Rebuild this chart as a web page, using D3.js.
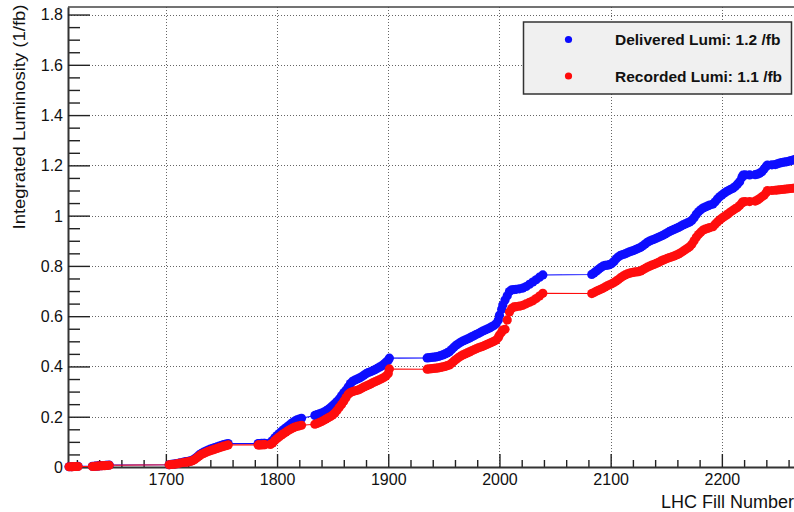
<!DOCTYPE html>
<html>
<head>
<meta charset="utf-8">
<script src="https://cdn.jsdelivr.net/npm/d3@7"></script>
<style>
  html, body { margin: 0; padding: 0; background: #fff; }
  svg { display: block; font-family: "Liberation Sans", Arial, Helvetica, sans-serif; }
</style>
</head>
<body>
<svg id="chart" width="794" height="512"></svg>
<script>
// Cumulative integrated luminosity per LHC fill (1/fb)
const fills = [
  1613,1615,1616,1618,1619,1621,
  1634,1636,1637,1639,1640,1642,1643,1645,1646,1647,1649,
  1703,1705,1707,1709,1711,1713,1716,1718,1720,1722,1724,1726,1728,1730,1732,1734,1736,1738,1740,1742,1744,1746,1748,1750,1752,1754,1756,
  1783,1784,1786,1788,1789,
  1794,1796,1798,1800,1802,1804,1806,1808,1810,1812,1814,1816,1818,1820,1822,
  1834,1836,1838,1840,1842,1844,1846,1848,1850,1852,1854,1856,1858,1860,1862,1864,1866,1868,1870,1872,1874,1876,1878,1880,1882,1884,1886,1888,1890,1892,1894,1896,1898,1900,1901,
  1935,1937,1939,1941,1943,1945,1947,1949,1951,1953,1955,1957,1959,1961,1963,1965,1967,1969,1971,1973,1975,1977,1979,1981,1983,1985,1987,1989,1991,1993,1995,1997,1999,
  2000,2002,2003,2005,2007,2009,2011,2013,2015,2018,2021,2024,2027,2030,2033,2036,2039,
  2083,2085,2087,2089,2091,2093,2095,2097,2099,2101,2103,2105,2107,2109,2111,2113,2115,2117,2119,2121,2123,2125,2127,2129,2131,2133,2135,2137,
  2139,2141,2143,2145,2147,2149,2151,2153,2155,2157,2159,2161,2163,2165,2167,2169,2171,2173,2175,2177,2179,2181,2183,2185,2187,2189,
  2192,2194,2196,2198,2200,2202,2204,2206,2208,2210,2212,2214,2216,2218,
  2219,2221,2225,2230,2232,2234,2236,2238,2240,2241,2245,2248,
  2250,2252,2254,2256,2258,2260,2262,2264,2266
];

const delivered = [
  0.001,0.001,0.002,0.002,0.002,0.003,
  0.003,0.003,0.004,0.004,0.005,0.005,0.006,0.006,0.007,0.007,0.008,
  0.009,0.011,0.012,0.013,0.015,0.017,0.019,0.021,0.022,0.024,0.027,0.033,0.040,0.048,0.054,0.059,0.063,0.067,0.071,0.074,0.077,0.080,0.083,0.086,0.089,0.091,0.093,
  0.093,0.093,0.094,0.094,0.094,
  0.097,0.105,0.116,0.125,0.133,0.141,0.149,0.156,0.163,0.170,0.177,0.183,0.188,0.191,0.194,
  0.205,0.208,0.211,0.214,0.218,0.223,0.229,0.236,0.244,0.252,0.261,0.271,0.283,0.295,0.305,0.318,0.332,0.341,0.346,0.350,0.354,0.359,0.365,0.371,0.376,0.379,0.383,0.387,0.392,0.397,0.402,0.409,0.417,0.425,0.433,
  0.434,0.435,0.436,0.437,0.438,0.440,0.443,0.446,0.450,0.454,0.459,0.467,0.476,0.484,0.490,0.496,0.501,0.505,0.509,0.513,0.518,0.522,0.527,0.531,0.536,0.541,0.545,0.549,0.553,0.558,0.563,0.570,0.585,
  0.604,0.628,0.644,0.664,0.681,0.698,0.705,0.706,0.707,0.709,0.712,0.718,0.727,0.736,0.745,0.755,0.764,
  0.766,0.772,0.779,0.786,0.793,0.799,0.802,0.803,0.805,0.810,0.818,0.828,0.836,0.842,0.845,0.848,0.852,0.856,0.859,0.862,0.866,0.870,0.874,0.880,0.887,0.894,0.899,0.903,
  0.906,0.910,0.914,0.918,0.922,0.927,0.932,0.937,0.941,0.945,0.949,0.953,0.958,0.963,0.967,0.971,0.975,0.981,0.992,1.005,1.015,1.023,1.030,1.034,1.038,1.042,
  1.046,1.055,1.066,1.075,1.082,1.089,1.095,1.100,1.105,1.109,1.116,1.125,1.135,1.152,
  1.161,1.162,1.162,1.163,1.165,1.169,1.175,1.186,1.196,1.201,1.202,1.203,
  1.206,1.209,1.211,1.213,1.214,1.216,1.219,1.221,1.224
];

const recorded = [
  0.001,0.001,0.001,0.002,0.002,0.002,
  0.002,0.003,0.003,0.004,0.004,0.005,0.005,0.005,0.006,0.006,0.007,
  0.009,0.010,0.011,0.012,0.014,0.016,0.018,0.019,0.020,0.022,0.025,0.030,0.037,0.044,0.050,0.054,0.058,0.062,0.065,0.068,0.071,0.074,0.077,0.080,0.083,0.085,0.088,
  0.088,0.088,0.088,0.089,0.089,
  0.090,0.095,0.105,0.113,0.120,0.127,0.133,0.139,0.145,0.150,0.155,0.159,0.162,0.164,0.166,
  0.170,0.173,0.177,0.181,0.186,0.191,0.196,0.201,0.207,0.215,0.226,0.238,0.249,0.262,0.276,0.289,0.296,0.300,0.303,0.305,0.308,0.313,0.318,0.322,0.326,0.330,0.335,0.339,0.343,0.347,0.351,0.356,0.362,0.372,0.390,
  0.389,0.390,0.391,0.392,0.393,0.394,0.396,0.398,0.400,0.403,0.406,0.413,0.421,0.428,0.435,0.441,0.446,0.450,0.454,0.458,0.462,0.466,0.470,0.474,0.477,0.480,0.484,0.488,0.492,0.496,0.500,0.505,0.515,
  0.525,0.537,0.545,0.548,0.585,0.617,0.631,0.637,0.638,0.640,0.643,0.649,0.655,0.661,0.670,0.680,0.691,
  0.690,0.694,0.699,0.703,0.707,0.711,0.716,0.721,0.725,0.729,0.734,0.740,0.746,0.753,0.759,0.764,0.768,0.771,0.773,0.775,0.776,0.777,0.780,0.785,0.790,0.795,0.799,0.803,
  0.806,0.810,0.814,0.819,0.823,0.826,0.830,0.833,0.836,0.839,0.843,0.847,0.852,0.858,0.864,0.870,0.876,0.886,0.900,0.914,0.925,0.934,0.942,0.946,0.949,0.952,
  0.956,0.966,0.975,0.983,0.990,0.996,1.002,1.008,1.015,1.021,1.027,1.032,1.040,1.050,
  1.055,1.056,1.056,1.058,1.062,1.068,1.075,1.081,1.092,1.100,1.100,1.101,
  1.102,1.103,1.104,1.105,1.106,1.107,1.108,1.109,1.110
];

const xMajorTicks = [1700, 1800, 1900, 2000, 2100, 2200];
const yMajorTicks = [0, 0.2, 0.4, 0.6, 0.8, 1, 1.2, 1.4, 1.6, 1.8];
const legendLabels = ["Delivered Lumi: 1.2 /fb", "Recorded Lumi: 1.1 /fb"];
const seriesColors = ["#0a0aff", "#ff0a0a"];

const svg = d3.select("#chart");
const plotLeft = 68, plotTop = 7, plotBottom = 467;

const x = d3.scaleLinear().domain([1612, 2275]).range([plotLeft, plotLeft + 663 * 1.112]);
const y = d3.scaleLinear().domain([0, 1.83]).range([plotBottom, plotTop]);
const plotRight = x.range()[1];

// dotted grid
const grid = svg.append("g").attr("stroke", "#666").attr("stroke-width", 1)
  .attr("stroke-dasharray", "1,2").attr("shape-rendering", "crispEdges");
grid.selectAll("line.gx").data(xMajorTicks).join("line").attr("class", "gx")
  .attr("x1", d => Math.round(x(d)) + 0.5).attr("x2", d => Math.round(x(d)) + 0.5)
  .attr("y1", plotTop).attr("y2", plotBottom);
grid.selectAll("line.gy").data(yMajorTicks.filter(d => d > 0)).join("line").attr("class", "gy")
  .attr("y1", d => Math.round(y(d)) + 0.5).attr("y2", d => Math.round(y(d)) + 0.5)
  .attr("x1", plotLeft).attr("x2", plotRight);

// frame top line
svg.append("line").attr("x1", plotLeft).attr("x2", plotRight).attr("y1", plotTop).attr("y2", plotTop)
  .attr("stroke", "#444").attr("stroke-width", 1.6);

// minor ticks
const yMinor = d3.range(0, 1.8001, 0.05).filter(v => Math.abs(v / 0.2 - Math.round(v / 0.2)) > 1e-6);
svg.append("g").attr("transform", `translate(${plotLeft},0)`)
  .call(d3.axisLeft(y).tickValues(yMinor).tickSize(-12).tickFormat(""))
  .call(g => g.select(".domain").remove())
  .selectAll("line").attr("stroke", "#222").attr("stroke-width", 1.4);

const xMinor = d3.range(1620, 2275, 20).filter(v => v % 100 !== 0);
svg.append("g").attr("transform", `translate(0,${plotBottom})`)
  .call(d3.axisBottom(x).tickValues(xMinor).tickSize(-7).tickFormat(""))
  .call(g => g.select(".domain").remove())
  .selectAll("line").attr("stroke", "#222").attr("stroke-width", 1.4);

// major axes
const yAxis = svg.append("g").attr("transform", `translate(${plotLeft},0)`)
  .call(d3.axisLeft(y).tickValues(yMajorTicks).tickSize(-22).tickSizeOuter(0).tickPadding(5)
    .tickFormat(d => d3.format("~g")(d)));
yAxis.select(".domain").attr("stroke", "#333").attr("stroke-width", 2);
yAxis.selectAll("line").attr("stroke", "#222").attr("stroke-width", 1.4);
yAxis.selectAll("text").attr("font-size", 16).attr("fill", "#111").attr("dy", "0.34em")
  .attr("font-family", "'Liberation Sans', Arial, sans-serif");

const xAxis = svg.append("g").attr("transform", `translate(0,${plotBottom})`)
  .call(d3.axisBottom(x).tickValues(xMajorTicks).tickSize(-13).tickSizeOuter(0).tickPadding(6.5)
    .tickFormat(d3.format("d")));
xAxis.select(".domain").attr("stroke", "#333").attr("stroke-width", 2);
xAxis.selectAll("line").attr("stroke", "#222").attr("stroke-width", 1.4);
xAxis.selectAll("text").attr("font-size", 16).attr("fill", "#111")
  .attr("font-family", "'Liberation Sans', Arial, sans-serif");

// axis titles
svg.append("text").attr("transform", "translate(24.5,117) rotate(-90)")
  .attr("text-anchor", "middle").attr("font-size", 16).attr("fill", "#111")
  .attr("textLength", 225).attr("lengthAdjust", "spacingAndGlyphs")
  .text("Integrated Luminosity (1/fb)");
svg.append("text").attr("x", 661).attr("y", 508).attr("font-size", 18).attr("fill", "#111")
  .text("LHC Fill Number");

// data series
const soft = svg.append("defs").append("filter").attr("id", "soft")
  .attr("x", "-5%").attr("y", "-5%").attr("width", "110%").attr("height", "110%");
soft.append("feGaussianBlur").attr("stdDeviation", 0.5);

const series = [delivered, recorded];
const line = d3.line().x(d => x(d[0])).y(d => y(d[1]));
series.forEach((vals, i) => {
  const pts = fills.map((f, k) => [f, vals[k]]);
  const g = svg.append("g").attr("filter", "url(#soft)");
  g.append("path").datum(pts).attr("d", line).attr("fill", "none")
    .attr("stroke", seriesColors[i]).attr("stroke-width", 1.1);
  g.selectAll("circle").data(pts).join("circle")
    .attr("cx", d => x(d[0])).attr("cy", d => y(d[1])).attr("r", 4.6)
    .attr("fill", seriesColors[i]);
});

// legend
const lg = svg.append("g");
lg.append("rect").attr("x", 523.5).attr("y", 22).attr("width", 268).attr("height", 72)
  .attr("fill", "#f0f0f0").attr("stroke", "#333").attr("stroke-width", 1.5);
legendLabels.forEach((t, i) => {
  const cy = 39.5 + i * 36.5;
  lg.append("circle").attr("cx", 568.5).attr("cy", cy).attr("r", 3.6).attr("fill", seriesColors[i]);
  lg.append("text").attr("x", 615).attr("y", cy + 5.8).attr("font-size", 15.5)
    .attr("font-weight", "bold").attr("fill", "#111").text(t);
});
</script>
</body>
</html>
